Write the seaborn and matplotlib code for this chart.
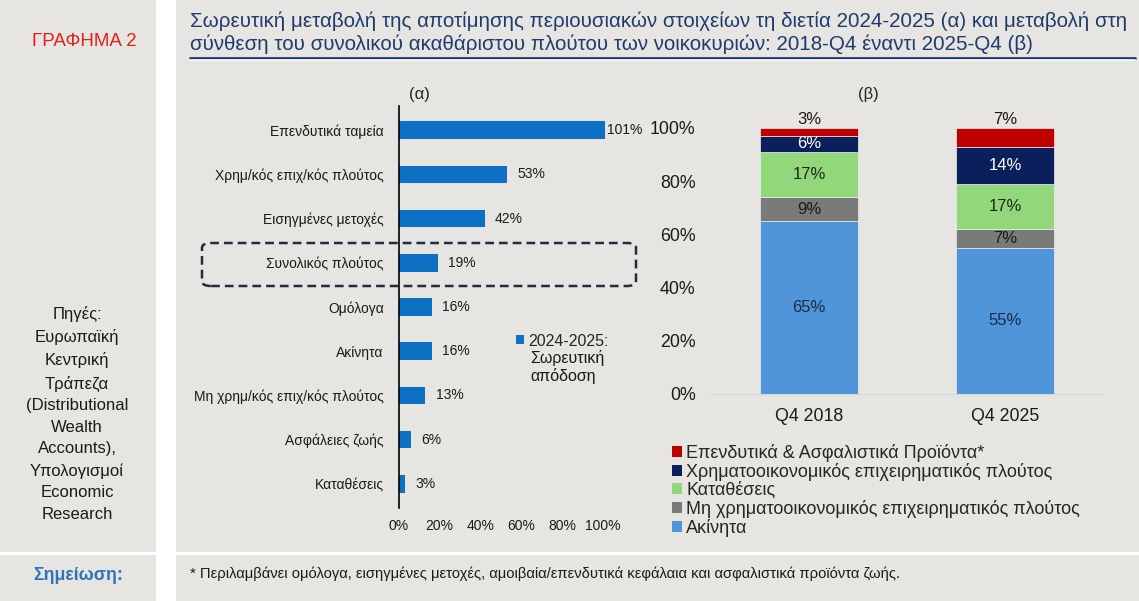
import numpy as np
import matplotlib.pyplot as plt
import pandas as pd
import seaborn as sns
from matplotlib.patches import Rectangle, FancyBboxPatch, Patch
from matplotlib.lines import Line2D
from matplotlib.ticker import PercentFormatter

# data - chart (a)
categories = ['Επενδυτικά ταμεία', 'Χρημ/κός επιχ/κός πλούτος', 'Εισηγμένες μετοχές',
              'Συνολικός πλούτος', 'Ομόλογα', 'Ακίνητα', 'Μη χρημ/κός επιχ/κός πλούτος',
              'Ασφάλειες ζωής', 'Καταθέσεις']
returns = [1.01, 0.53, 0.42, 0.19, 0.16, 0.16, 0.13, 0.06, 0.03]
returns_label = ['2024-2025:', 'Σωρευτική', 'απόδοση']

# data - chart (b)
periods = ['Q4 2018', 'Q4 2025']
components = ['Ακίνητα', 'Μη χρηματοοικονομικός επιχειρηματικός πλούτος', 'Καταθέσεις',
              'Χρηματοοικονομικός επιχειρηματικός πλούτος', 'Επενδυτικά & Ασφαλιστικά Προϊόντα*']
shares_2018 = [0.65, 0.09, 0.17, 0.06, 0.03]
shares_2025 = [0.55, 0.07, 0.17, 0.14, 0.07]
comp_colors = ['#5095d9', '#7a7a7a', '#92d77a', '#0a1f5c', '#c00000']
label_colors = ['#1b2a47', '#1a1a1a', '#1a2a1a', 'white', '#1a1a1a']

W, H = 1139, 601
BG = '#e6e5e1'

sns.set_style('white')
plt.rcParams['font.family'] = ['Liberation Sans', 'DejaVu Sans']

fig = plt.figure(figsize=(W / 100, H / 100), dpi=100)
fig.patch.set_facecolor('white')


def fx(x):
    return x / W


def fy(y):
    return 1 - y / H


# background panels
for (x0, y0, x1, y1) in [(0, 0, 156, 552), (176, 0, W, 552), (0, 555, 156, H), (176, 555, W, H)]:
    fig.patches.append(Rectangle((fx(x0), fy(y1)), fx(x1 - x0), (y1 - y0) / H,
                                 transform=fig.transFigure, facecolor=BG, edgecolor='none', zorder=-5))

# header texts
fig.text(fx(84), fy(42), 'ΓΡΑΦΗΜΑ 2', color='#e0201b', fontsize=13.5, ha='center', va='center')
fig.text(fx(190), fy(33),
         'Σωρευτική μεταβολή της αποτίμησης περιουσιακών στοιχείων τη διετία 2024-2025 (α) και μεταβολή στη\n'
         'σύνθεση του συνολικού ακαθάριστου πλούτου των νοικοκυριών: 2018-Q4 έναντι 2025-Q4 (β)',
         color='#1f3b6e', fontsize=14.8, ha='left', va='center', linespacing=1.25)
fig.lines.append(Line2D([fx(190), fx(1135)], [fy(57.5), fy(57.5)], transform=fig.transFigure,
                        color='#1f3b6e', lw=2))
fig.lines.append(Line2D([fx(190), fx(1135)], [fy(60), fy(60)], transform=fig.transFigure,
                        color='white', lw=1.2))

fig.text(fx(77), fy(414),
         'Πηγές:\nΕυρωπαϊκή\nΚεντρική\nΤράπεζα\n(Distributional\nWealth\nAccounts),\nΥπολογισμοί\nEconomic\nResearch',
         fontsize=12, ha='center', va='center', linespacing=1.55, color='#1a1a1a')
fig.text(fx(78), fy(575), 'Σημείωση:', color='#2e75b6', fontsize=12.8, fontweight='bold',
         ha='center', va='center')
fig.text(fx(190), fy(574),
         '* Περιλαμβάνει ομόλογα, εισηγμένες μετοχές, αμοιβαία/επενδυτικά κεφάλαια και ασφαλιστικά προϊόντα ζωής.',
         fontsize=10.6, ha='left', va='center', color='#1a1a1a')

fig.text(fx(419), fy(95), '(α)', fontsize=12, ha='center', va='center')
fig.text(fx(868), fy(95), '(β)', fontsize=12, ha='center', va='center')

# chart (a)
ax1 = fig.add_axes([fx(399), fy(508), fx(623 - 399), (508 - 106) / H])
ax1.set_facecolor('none')
df_a = pd.DataFrame({'cat': categories, 'val': returns})
sns.barplot(data=df_a, x='val', y='cat', orient='h', color='#0c70c4', width=0.4,
            saturation=1, linewidth=0, ax=ax1, label=returns_label[0])
ax1.set_xlim(0, 1.1)
ax1.set_ylim(len(categories) - 0.45, -0.55)
ax1.set_xticks(np.arange(0, 1.01, 0.2))
ax1.xaxis.set_major_formatter(PercentFormatter(1.0, decimals=0))
ax1.set_xlabel('')
ax1.set_ylabel('')
ax1.tick_params(axis='both', length=0, labelsize=10, colors='#1a1a1a')
ax1.tick_params(axis='y', pad=11)
ax1.tick_params(axis='x', pad=8)
for s in ['top', 'right', 'bottom']:
    ax1.spines[s].set_visible(False)
ax1.spines['left'].set_color('black')
ax1.spines['left'].set_linewidth(1.2)
for i, v in enumerate(returns):
    off = 0.01 if v > 1 else 0.05
    ax1.text(v + off, i, f'{v * 100:.0f}%', va='center', ha='left', fontsize=10, color='#1a1a1a')
ax1.legend(loc='center left', bbox_to_anchor=(fx(516), fy(341)), bbox_transform=fig.transFigure,
           frameon=False, fontsize=11.5, handlelength=0.5, handleheight=0.5, handletextpad=0.25,
           borderaxespad=0, borderpad=0)
fig.text(fx(530), fy(350), '\n'.join(returns_label[1:]), fontsize=11.5, ha='left', va='top',
         linespacing=1.15, color='#1a1a1a')

# dashed box around the total
fig.patches.append(FancyBboxPatch((fx(202), fy(286)), fx(636 - 202), (286 - 243) / H,
                                  boxstyle='round,pad=0,rounding_size=0.008',
                                  transform=fig.transFigure, facecolor='none',
                                  edgecolor='#1f2d3d', lw=1.8, linestyle=(0, (3.5, 2)), zorder=5))

# chart (b)
ax2 = fig.add_axes([fx(711), fy(394), fx(1103 - 711), (394 - 128) / H])
ax2.set_facecolor('none')
stack = np.array([shares_2018, shares_2025])
bottom = np.zeros(len(periods))
for j, comp in enumerate(components):
    ax2.bar(periods, stack[:, j], bottom=bottom, width=0.5, color=comp_colors[j], label=comp,
            edgecolor='#eeeeee', linewidth=0.5)
    for i in range(len(periods)):
        v = stack[i, j]
        if j == len(components) - 1:
            ax2.text(i, bottom[i] + v + 0.002, f'{v * 100:.0f}%', ha='center', va='bottom',
                     fontsize=12, color=label_colors[j])
        else:
            ax2.text(i, bottom[i] + v / 2, f'{v * 100:.0f}%', ha='center', va='center',
                     fontsize=12, color=label_colors[j])
    bottom += stack[:, j]
ax2.set_xlim(-0.5, 1.5)
ax2.set_ylim(0, 1)
ax2.set_yticks(np.arange(0, 1.01, 0.2))
ax2.yaxis.set_major_formatter(PercentFormatter(1.0, decimals=0))
ax2.tick_params(axis='both', length=0, labelsize=12.8, colors='#1a1a1a')
ax2.tick_params(axis='y', pad=11)
ax2.tick_params(axis='x', pad=10)
for s in ['top', 'right', 'left']:
    ax2.spines[s].set_visible(False)
ax2.spines['bottom'].set_color('#d6d6d6')

handles = [Patch(facecolor=c, edgecolor='none') for c in comp_colors][::-1]
fig.legend(handles, components[::-1], loc='upper left', bbox_to_anchor=(fx(672), fy(444)),
           frameon=False, fontsize=13, handlelength=0.55, handleheight=0.55, handletextpad=0.25,
           labelspacing=0.05, borderaxespad=0, borderpad=0)

fig.savefig('out.png', dpi=100, facecolor=fig.get_facecolor())
